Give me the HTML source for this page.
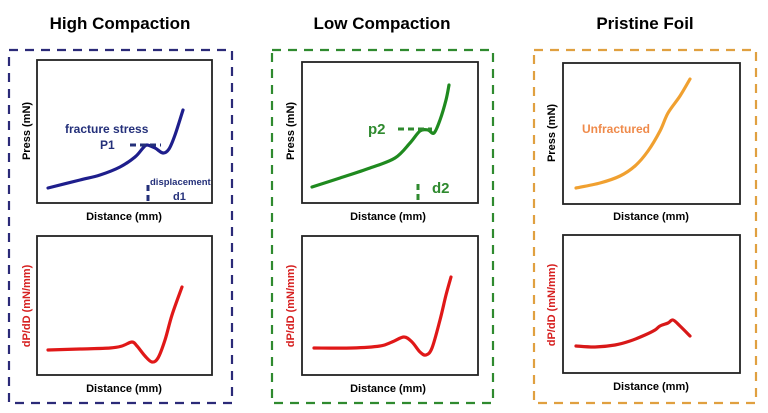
<!DOCTYPE html>
<html><head><meta charset="utf-8"><style>
body{margin:0;background:#fff;}
svg{display:block;font-family:"Liberation Sans",Arial,sans-serif;font-weight:bold;}
</style></head><body>
<svg width="768" height="413" viewBox="0 0 768 413">
<script>
// data: distance (x) and press/derivative (y) values in plot units
const hcTopX=[11,43,63,83,98,106,110,118,126,132,138,146];
const hcTopY=[15,23,28,36,46,55,58,55,50,54,68,93];
const hcBotX=[11,43,73,85,95,100,108,115,121,128,135,145];
const hcBotY=[25,26,27,29,33,29,19,13,17,35,60,88];
const lcTopX=[10,38,68,93,108,118,126,132,138,144,147];
const lcTopY=[16,25,35,45,60,72,73,70,83,103,118];
const lcBotX=[12,50,78,90,102,110,118,124,130,138,144,149];
const lcBotY=[27,27,29,33,38,33,23,20,27,55,80,98];
const pfTopX=[13,37,57,72,85,97,105,117,127];
const pfTopY=[16,21,28,38,53,73,91,108,125];
const pfBotX=[13,32,52,67,82,92,97,105,110,117,127];
const pfBotY=[27,26,28,32,38,43,47,50,53,47,37];
</script>
<g fill="none" stroke-width="2.2" stroke-dasharray="9,7">
<rect x="9" y="50" width="223" height="353" stroke="#2b2a78"/>
<rect x="272" y="50" width="221" height="353" stroke="#2f8a2f"/>
<rect x="534" y="50" width="222" height="353" stroke="#e0a040"/>
</g>
<g font-size="17" text-anchor="middle" fill="#000">
<text x="120" y="29">High Compaction</text>
<text x="382" y="29">Low Compaction</text>
<text x="645" y="29">Pristine Foil</text>
</g>
<g id="plots"></g>
<g font-size="11" text-anchor="middle">
<text x="124" y="220">Distance (mm)</text>
<text x="124" y="392">Distance (mm)</text>
<text x="388" y="220">Distance (mm)</text>
<text x="388" y="392">Distance (mm)</text>
<text x="651" y="220">Distance (mm)</text>
<text x="651" y="390">Distance (mm)</text>
<text transform="translate(30,131) rotate(-90)">Press (mN)</text>
<text transform="translate(294,131) rotate(-90)">Press (mN)</text>
<text transform="translate(555,133) rotate(-90)">Press (mN)</text>
<text transform="translate(30,306) rotate(-90)" fill="#d62020">dP/dD (mN/mm)</text>
<text transform="translate(294,306) rotate(-90)" fill="#d62020">dP/dD (mN/mm)</text>
<text transform="translate(555,305) rotate(-90)" fill="#d62020">dP/dD (mN/mm)</text>
</g>
<g fill="#24307a">
<text x="65" y="133" font-size="12">fracture stress</text>
<text x="100" y="149" font-size="12">P1</text>
<text x="150" y="185" font-size="9.5">displacement</text>
<text x="173" y="200" font-size="11">d1</text>
</g>
<g stroke="#24307a" stroke-width="3" stroke-dasharray="6,4" fill="none">
<line x1="130" y1="145" x2="161" y2="145"/>
<line x1="148" y1="185" x2="148" y2="203"/>
</g>
<g fill="#2f8a2f">
<text x="368" y="134" font-size="15">p2</text>
<text x="432" y="193" font-size="15">d2</text>
</g>
<g stroke="#2f8a2f" stroke-width="3" stroke-dasharray="6,4" fill="none">
<line x1="398" y1="129" x2="432" y2="129"/>
<line x1="418" y1="184" x2="418" y2="203"/>
</g>
<text x="582" y="133" font-size="12" fill="#ef8a4a">Unfractured</text>
</svg>
<script>
const NS='http://www.w3.org/2000/svg';
const g=document.getElementById('plots');
function mkX(l){return v=>l+v;}
function mkY(b){return v=>b-v;}
function path(xs,ys,fx,fy){
  const p=xs.map((x,i)=>[fx(x),fy(ys[i])]);
  let d='M'+p[0][0]+','+p[0][1];
  for(let i=0;i<p.length-1;i++){
    const p0=p[i-1]||p[i],p1=p[i],p2=p[i+1],p3=p[i+2]||p2;
    const c1=[p1[0]+(p2[0]-p0[0])/6,p1[1]+(p2[1]-p0[1])/6];
    const c2=[p2[0]-(p3[0]-p1[0])/6,p2[1]-(p3[1]-p1[1])/6];
    d+=' C'+c1+' '+c2+' '+p2;
  }
  return d;
}
const plots=[
 ['hc-top',37,60,175,143,hcTopX,hcTopY,'#1e1e8c'],
 ['hc-bottom',37,236,175,139,hcBotX,hcBotY,'#e01818'],
 ['lc-top',302,62,176,141,lcTopX,lcTopY,'#1f8a1f'],
 ['lc-bottom',302,236,176,139,lcBotX,lcBotY,'#e01818'],
 ['pf-top',563,63,177,141,pfTopX,pfTopY,'#f0a030'],
 ['pf-bottom',563,235,177,138,pfBotX,pfBotY,'#d81818']
];
plots.forEach(([n,l,t,w,h,xs,ys,c])=>{
  const r=document.createElementNS(NS,'rect');
  r.setAttribute('x',l);r.setAttribute('y',t);r.setAttribute('width',w);r.setAttribute('height',h);
  r.setAttribute('fill','none');r.setAttribute('stroke','#222');r.setAttribute('stroke-width','1.8');
  
  
  g.appendChild(r);
  const p=document.createElementNS(NS,'path');
  p.setAttribute('d',path(xs,ys,mkX(l),mkY(t+h)));
  p.setAttribute('fill','none');p.setAttribute('stroke',c);p.setAttribute('stroke-width','3.2');
  p.setAttribute('stroke-linecap','round');p.setAttribute('stroke-linejoin','round');
  
  
  g.appendChild(p);
});
</script>
</body></html>
